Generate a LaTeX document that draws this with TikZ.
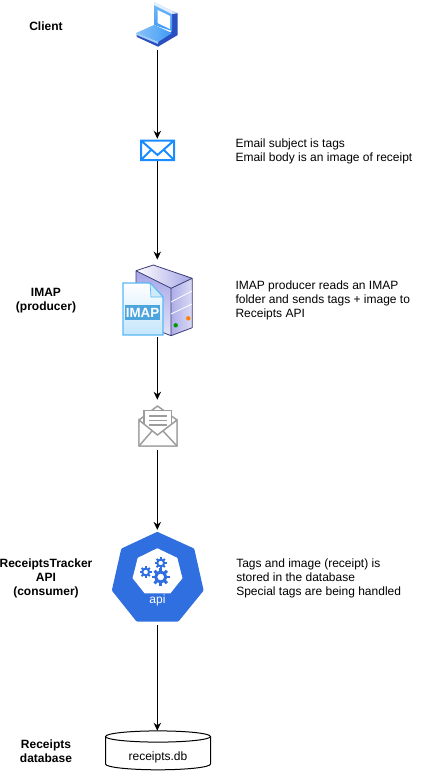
\documentclass[tikz,border=0pt]{standalone}
\usepackage{fontspec}
\setmainfont{Liberation Sans}
\usetikzlibrary{arrows.meta}
\definecolor{apiblue}{HTML}{2F6FE0}
\definecolor{mailblue}{HTML}{1A8CFF}
\definecolor{lapblue}{HTML}{3D9BF5}
\definecolor{lapdark}{HTML}{2A4FC0}
\definecolor{mailgray}{HTML}{9C9C9C}
\definecolor{srvside}{HTML}{A4A4E6}
\definecolor{srvline}{HTML}{3C3C78}
\definecolor{docblue}{HTML}{57B8F5}
\tikzset{
  label/.style={font=\fontsize{9pt}{10.5pt}\selectfont\bfseries,align=center,inner sep=0pt},
  note/.style={font=\fontsize{9pt}{10.5pt}\selectfont,align=left,anchor=west,inner sep=0pt},
  icon/.style={inner sep=0pt,minimum width=30pt},
  link/.style={-{Stealth[length=6pt,width=5.5pt]},line width=0.75pt},
}
\begin{document}
\begin{tikzpicture}[x=0.75pt,y=-0.75pt]
\useasboundingbox (0,0) rectangle (435,776);
% laptop
\fill[lapdark](177.7,13.3)--(177.7,35)--(158,46.7)--(158,41)--(172,31)--(172,11)--cycle;
\shade[top color=lapblue!70,bottom color=lapblue](154,2)--(172,11)--(172,31)--(154,25)--cycle;
\fill[white,opacity=.8](154,2)--(172,11)--(177.7,13.3)--(172,14)--(154,5)--cycle;
\fill[white](157.5,10)--(170,16)--(170,29)--(157.5,23)--cycle;
\shade[left color=lapblue!60,right color=lapblue](136,33)--(154,25)--(172,33)--(158,42)--cycle;
\fill[lapblue!50](136,33)--(158,42)--(158,44)--(136.5,35)--cycle;
\fill[lapdark](136.5,35)--(158,44)--(158,46.7)--(137,37)--cycle;
\node[icon,minimum height=36pt] (client) at (157.3,26) {};
% envelope
\draw[mailblue,line width=1.5pt](141,140.5)rectangle(174,160)
  (141,140.5)--(157.5,155)--(174,140.5)
  (141,160)--(151.5,149.5)(174,160)--(163.5,149.5);
\node[icon,minimum height=16.5pt] (mail) at (157.3,150) {};
% server and imap file
\shade[left color=white,right color=srvside](153.3,265)--(192.3,278.3)--(171,288.3)--(136,270.7)--cycle;
\shade[top color=srvside,bottom color=srvside!30](136,270.7)--(171,288.3)--(171,335.7)--(136,322)--cycle;
\shade[left color=srvside!90,right color=srvside!40](171,288.3)--(192.3,278.3)--(192.3,327.7)--(171,335.7)--cycle;
\draw[srvline,line width=0.6pt,line join=round](136,270.7)--(153.3,265)--(192.3,278.3)--(192.3,327.7)--(171,335.7)--(136,322)--cycle(136,270.7)--(171,288.3)--(171,335.7)(171,288.3)--(192.3,278.3);
\draw[white,line width=0.6pt](171,302)--(192,291)(171,314)--(192,304);
\fill[green!60!black](175.7,325.3)circle[radius=2.2];
\fill[orange](188.3,318.3)circle[radius=2.2];
\shade[top color=white,bottom color=docblue!35,draw=docblue,line width=1pt](123,283)--(150,283)--(163,297)--(163,335)--(123,335)--cycle;
\fill[docblue!30,draw=docblue,line width=0.5pt](150,283)--(163,297)--(151,297)--cycle;
\fill[docblue!90!black](125,305)rectangle(160,320);
\node[font=\fontsize{10pt}{10pt}\selectfont\bfseries,text=white,inner sep=0pt] (imaptag) at (142.5,312.5) {IMAP};
\node[icon,minimum height=58pt] (imap) at (157.3,298.5) {};
% open envelope
\draw[mailgray,line width=1.1pt,line join=round,fill=white](139,420)--(157.5,406)--(177,420)--(177,446)--(139,446)--cycle;
\draw[mailgray,line width=1.1pt,fill=white](144,428)--(144,410.5)--(171.5,410.5)--(171.5,428);
\draw[mailgray,line width=0.9pt](149,416)--(167,416)(149,420.5)--(167,420.5)(149,425)--(167,425);
\draw[mailgray,line width=1.1pt,fill=white](139,420)--(157.5,435)--(177,420)--(177,446)--(139,446)--cycle;
\draw[mailgray,line width=1.1pt](139,446)--(152,431)(177,446)--(163,431);
\node[icon,minimum height=37.5pt] (openmail) at (157.3,425) {};
% api badge
\fill[apiblue,draw=apiblue,line width=3pt,line join=round](157.3,534)--(192.5,550)--(201.5,590)--(177.5,619.5)--(137.5,619.5)--(114,590)--(123,550)--cycle;
\fill[white,draw=white,line width=1pt,line join=round](157.3,549)--(176.7,558.3)--(181.7,578)--(170,592.7)--(145,592.7)--(133.3,578)--(138.3,558.3)--cycle;
\foreach \gx/\gy/\gr/\gt/\gw in {160.7/577/5/3.8/2.2,145.7/572/3.4/2.4/1.5,160.7/563/3.4/2.4/1.5}{
  \foreach \ga in {0,45,...,315}
    \draw[apiblue,line width=\gw pt](\gx,\gy)++(\ga:\gr)--++(\ga:\gt);
  \draw[apiblue,line width=\gw pt,fill=white](\gx,\gy)circle[radius=\gr];
}
\node[font=\fontsize{9pt}{9pt}\selectfont,text=white,inner sep=0pt] (apitag) at (157.5,600) {api};
\node[icon,minimum height=71pt] (api) at (157.3,577.5) {};
% database
\draw[line width=0.75pt,fill=white](105.5,736.5)--(105.5,764)arc[start angle=180,end angle=0,x radius=52.5,y radius=5.8]--(210.5,736.5);
\draw[line width=0.75pt,fill=white](158,736.5)ellipse[x radius=52.5,y radius=5.6];
\node[icon,minimum width=79pt,minimum height=29.25pt] (db) at (157.3,750.5) {};
\node[font=\fontsize{9pt}{9pt}\selectfont,inner sep=0pt] (dbname) at (158,757) {receipts.db};
% connectors
\draw[link](client)--(mail);
\draw[link](mail)--(imap);
\draw[link](imap)--(openmail);
\draw[link](openmail)--(api);
\draw[link](api)--(db);
% left labels
\node[label] (clientlabel) at (46,26) {Client};
\node[label] (imaplabel) at (46,300.5) {IMAP\\(producer)};
\node[label] (apilabel) at (46,578) {ReceiptsTracker\\API\\(consumer)};
\node[label] (dblabel) at (46,751) {Receipts\\database};
% right notes
\node[note] (mailnote) at (235.3,151.5) {Email subject is tags\\Email body is an image of receipt};
\node[note] (imapnote) at (235.3,300) {IMAP producer reads an IMAP\\folder and sends tags + image to\\Receipts API};
\node[note] (apinote) at (236,578) {Tags and image (receipt) is\\stored in the database\\Special tags are being handled};
\end{tikzpicture}
\end{document}
